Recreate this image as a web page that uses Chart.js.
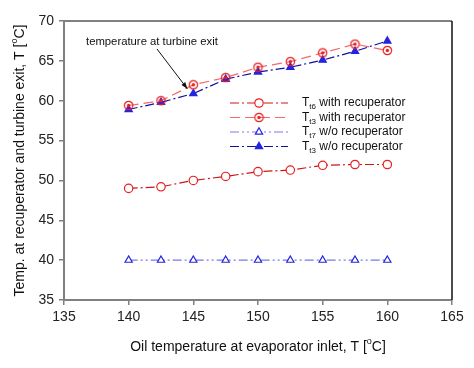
<!DOCTYPE html>
<html>
<head>
<meta charset="utf-8">
<script src="https://cdn.jsdelivr.net/npm/chart.js@4.4.1/dist/chart.umd.min.js"></script>
<style>
  body { margin: 0; background: #fff; }
  #wrap { width: 474px; height: 368px; }
</style>
</head>
<body>
<div id="wrap"><canvas id="chart" width="474" height="368"></canvas></div>
<script>
// oil temperature at evaporator inlet [°C]
const oilTemp = [140, 142.5, 145, 147.5, 150, 152.5, 155, 157.5, 160];
// T_t6 with recuperator
const t6With = [49.0, 49.2, 50.0, 50.5, 51.1, 51.3, 51.9, 52.0, 52.0];
// T_t3 with recuperator
const t3With = [59.4, 60.0, 62.0, 62.9, 64.2, 64.9, 66.0, 67.1, 66.3];
// T_t7 w/o recuperator
const t7Without = [40, 40, 40, 40, 40, 40, 40, 40, 40];
// T_t3 w/o recuperator
const t3Without = [58.9, 59.8, 60.9, 62.7, 63.6, 64.2, 65.1, 66.2, 67.5];

const xTicks = [135, 140, 145, 150, 155, 160, 165];
const yTicks = [35, 40, 45, 50, 55, 60, 65, 70];

const FONT = "'Liberation Sans', Arial, sans-serif";

const toXY = (ys) => oilTemp.map((x, i) => ({ x: x, y: ys[i] }));

// circle with a dot inside, for T_t3 with recuperator
function circledDot() {
    const c = document.createElement("canvas");
    c.width = 11; c.height = 11;
    const g = c.getContext("2d");
    g.strokeStyle = "#e82020";
    g.lineWidth = 1.2;
    g.beginPath(); g.arc(5.5, 5.5, 4.2, 0, Math.PI * 2); g.stroke();
    g.fillStyle = "#e82020";
    g.beginPath(); g.arc(5.5, 5.5, 1.7, 0, Math.PI * 2); g.fill();
    return c;
}
const dotMarker = circledDot();

const series = [
    { label: ["T", "t6", " with recuperator"], data: t6With, line: "#c81818", dash: [9, 3, 2, 3],
      pointStyle: "circle", pointColor: "#e82020", fill: "#fff" },
    { label: ["T", "t3", " with recuperator"], data: t3With, line: "#f06a6a", dash: [10, 5],
      pointStyle: dotMarker, pointColor: "#e82020", fill: "#fff" },
    { label: ["T", "t7", " w/o recuperator"], data: t7Without, line: "#7a7ae6", dash: [9, 3, 2, 3, 2, 3],
      pointStyle: "triangle", pointColor: "#2424e0", fill: "#fff" },
    { label: ["T", "t3", " w/o recuperator"], data: t3Without, line: "#1010a0", dash: [9, 3, 2, 3],
      pointStyle: "triangle", pointColor: "#2424e0", fill: "#2424e0" },
];

const datasets = series.map((s) => ({
    data: toXY(s.data),
    showLine: true,
    borderColor: s.line,
    borderWidth: 1.2,
    borderDash: s.dash,
    pointStyle: s.pointStyle,
    pointRadius: 4.2,
    pointBorderColor: s.pointColor,
    pointBackgroundColor: s.fill,
    pointBorderWidth: 1.2,
}));

// frame, axis titles, legend and annotation
const decorPlugin = {
    id: "decor",
    afterDraw(chart) {
        const ctx = chart.ctx;
        const a = chart.chartArea;
        ctx.save();

        // frame
        ctx.lineWidth = 2;
        ctx.strokeStyle = "#808080";
        ctx.beginPath();
        ctx.moveTo(a.right, a.top); ctx.lineTo(a.left, a.top);
        ctx.lineTo(a.left, a.bottom); ctx.lineTo(a.right, a.bottom);
        ctx.stroke();
        ctx.strokeStyle = "#111";
        ctx.lineWidth = 1.5;
        ctx.beginPath(); ctx.moveTo(a.right, a.top); ctx.lineTo(a.right, a.bottom); ctx.stroke();

        // axis titles with superscript "o"
        const titleWithDeg = (pre, cx, cy) => {
            ctx.font = "14px " + FONT;
            const small = "9px " + FONT;
            const w1 = ctx.measureText(pre + "[").width;
            ctx.font = small;
            const w2 = ctx.measureText("o").width;
            ctx.font = "14px " + FONT;
            const w3 = ctx.measureText("C]").width;
            let x = cx - (w1 + w2 + w3) / 2;
            ctx.textAlign = "left";
            ctx.textBaseline = "middle";
            ctx.fillStyle = "#111";
            ctx.fillText(pre + "[", x, cy);
            x += w1;
            ctx.font = small;
            ctx.fillText("o", x, cy - 5);
            x += w2;
            ctx.font = "14px " + FONT;
            ctx.fillText("C]", x, cy);
        };
        titleWithDeg("Oil temperature at evaporator inlet, T ", (a.left + a.right) / 2, 347);
        ctx.save();
        ctx.translate(20, (a.top + a.bottom) / 2);
        ctx.rotate(-Math.PI / 2);
        titleWithDeg("Temp. at recuperator and turbine exit, T ", 0, 0);
        ctx.restore();

        // legend
        const rows = [103, 117.5, 132, 146.5];
        chart.data.datasets.forEach((ds, i) => {
            const y = rows[i];
            ctx.save();
            ctx.strokeStyle = ds.borderColor;
            ctx.lineWidth = ds.borderWidth;
            ctx.setLineDash(ds.borderDash);
            ctx.beginPath(); ctx.moveTo(230, y); ctx.lineTo(288, y); ctx.stroke();
            ctx.restore();
            ctx.save();
            ctx.fillStyle = ds.pointBackgroundColor;
            ctx.strokeStyle = ds.pointBorderColor;
            ctx.lineWidth = 1.2;
            Chart.helpers.drawPoint(ctx, {
                pointStyle: ds.pointStyle, radius: 4.2, borderWidth: 1.2, rotation: 0,
            }, 259, y);
            ctx.restore();

            const lab = series[i].label;
            let x = 302;
            ctx.fillStyle = "#111";
            ctx.textAlign = "left";
            ctx.textBaseline = "middle";
            ctx.font = "12px " + FONT;
            ctx.fillText(lab[0], x, y);
            x += ctx.measureText(lab[0]).width;
            ctx.font = "8px " + FONT;
            ctx.fillText(lab[1], x, y + 4);
            x += ctx.measureText(lab[1]).width;
            ctx.font = "12px " + FONT;
            ctx.fillText(lab[2], x, y);
        });

        // annotation arrow to the turbine exit curve
        const xs = chart.scales.x, ys = chart.scales.y;
        const tipX = xs.getPixelForValue(oilTemp[2]) - 6;
        const tipY = ys.getPixelForValue(t3With[2]) + 4;
        const sx = 157, sy = 49;
        ctx.strokeStyle = "#111";
        ctx.fillStyle = "#111";
        ctx.lineWidth = 1;
        ctx.beginPath(); ctx.moveTo(sx, sy); ctx.lineTo(tipX, tipY); ctx.stroke();
        const ang = Math.atan2(tipY - sy, tipX - sx);
        ctx.beginPath();
        ctx.moveTo(tipX, tipY);
        ctx.lineTo(tipX - 7 * Math.cos(ang - 0.35), tipY - 7 * Math.sin(ang - 0.35));
        ctx.lineTo(tipX - 7 * Math.cos(ang + 0.35), tipY - 7 * Math.sin(ang + 0.35));
        ctx.closePath();
        ctx.fill();
        ctx.font = "11.3px " + FONT;
        ctx.textAlign = "left";
        ctx.textBaseline = "middle";
        ctx.fillText("temperature at turbine exit", 86, 42);

        ctx.restore();
    },
};

new Chart(document.getElementById("chart").getContext("2d"), {
    type: "scatter",
    data: { datasets: datasets },
    plugins: [decorPlugin],
    options: {
        responsive: false,
        animation: false,
        devicePixelRatio: 1,
        layout: { padding: { top: 21, right: 22, left: 0, bottom: 0 } },
        plugins: { legend: { display: false }, tooltip: { enabled: false } },
        scales: {
            x: {
                type: "linear", min: 135, max: 165,
                afterBuildTicks: (s) => { s.ticks = xTicks.map((v) => ({ value: v })); },
                afterFit: (s) => { s.height = 68; },
                grid: { drawOnChartArea: false, tickLength: 5, color: "#808080", lineWidth: 1.5 },
                border: { display: false },
                ticks: { padding: 4, color: "#222", font: { family: FONT, size: 14 } },
            },
            y: {
                type: "linear", min: 35, max: 70,
                afterBuildTicks: (s) => { s.ticks = yTicks.map((v) => ({ value: v })); },
                afterFit: (s) => { s.width = 64; },
                grid: { drawOnChartArea: false, tickLength: 5, color: "#808080", lineWidth: 1.5 },
                border: { display: false },
                ticks: { padding: 5, color: "#222", font: { family: FONT, size: 14 } },
            },
        },
    },
});
</script>
</body>
</html>
